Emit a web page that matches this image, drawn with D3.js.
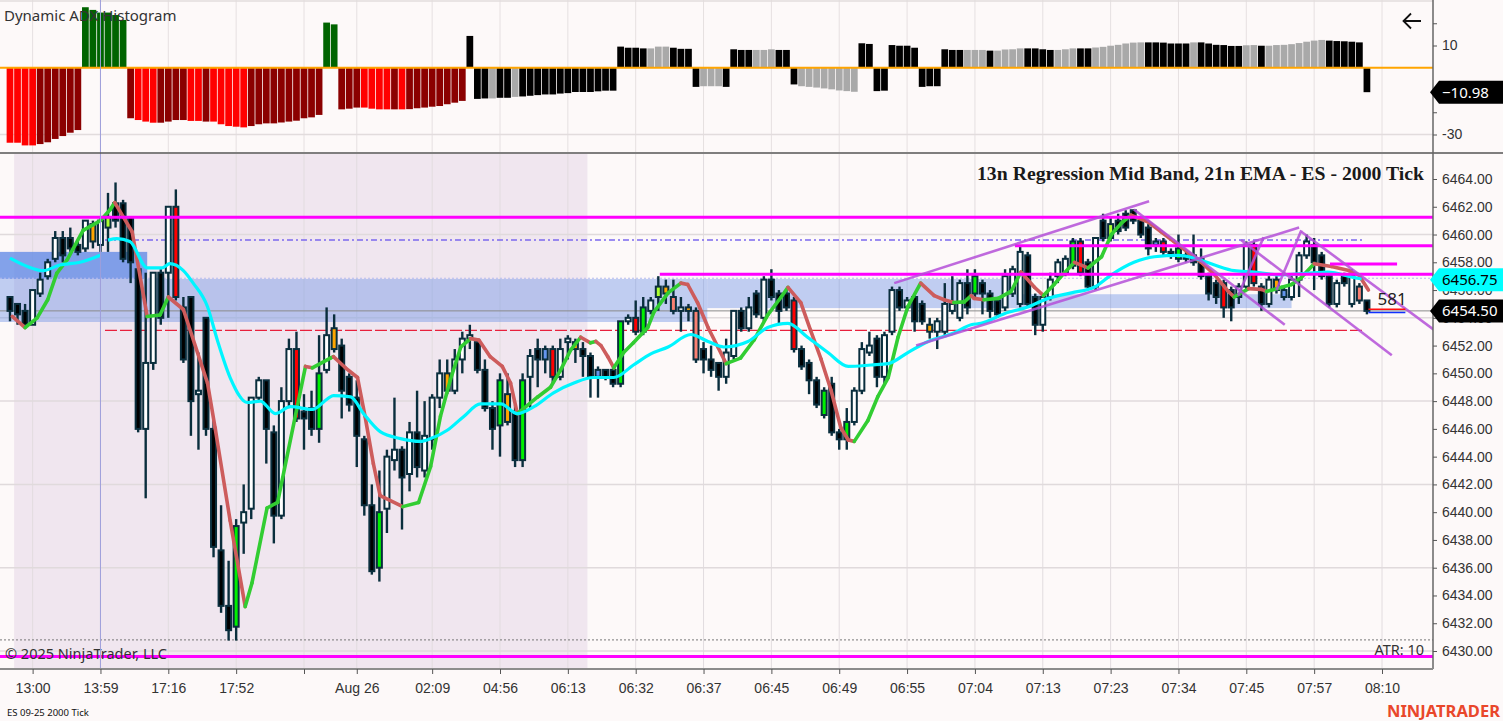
<!DOCTYPE html>
<html>
<head>
<meta charset="utf-8">
<script src="https://d3js.org/d3.v7.min.js"></script>
<style>
  body { margin: 0; background: #fdf9f9; }
  svg { display: block; font-family: "Noto Sans", "Open Sans", sans-serif; }
  .ax text { font-size: 14px; fill: #333; }
  .ax line { stroke: #555; }
</style>
</head>
<body>
<div id="chart"></div>
<script>
// ---------- price bars (ES 09-25, 2000 tick) ----------
var opens = [
6455.5,6455,6454.5,6453.5,6455.75,6457,6458.25,6459.75,6459.75,6459.25,
6459,6459.5,6459.25,6460.5,6462.25,6462.25,6461.25,6457.5,6446,6450.75,
6457.25,6457.25,6462,6454.75,6455.5,6448.5,6454,6446,6437.25,6433.25,
6431.75,6439.25,6440.25,6448.25,6449.5,6445.75,6439.75,6448,6451.75,6447.25,
6447.5,6446,6450.25,6453.25,6452,6449.75,6448.25,6445.25,6440.5,6436,
6440.25,6443.75,6444.5,6442.75,6445.75,6443,6445.25,6448.25,6450,6448.75,
6451,6452.5,6452.25,6450.25,6447.5,6446.25,6448.5,6447.25,6443.75,6449.75,
6451.75,6451.75,6451.75,6449.75,6452.25,6452.25,6451.75,6451.25,6450.25,6450.25,
6450.25,6449.25,6453.75,6454,6453,6454.5,6455.5,6456.25,6455.5,6454.5,
6454.75,6454.5,6451.75,6451,6450.75,6449.75,6451.25,6454.5,6453.25,6455.75,
6454,6456.75,6455.75,6455.75,6455.25,6451.75,6450.75,6449.5,6447,6449.25,
6445.75,6445.25,6446.5,6448.75,6451.5,6452.5,6449.75,6453,6456,6454.75,
6455.5,6455,6453.5,6453,6453,6454.5,6454,6456.5,6455.75,6456.5,
6455.75,6455.25,6454.75,6455.75,6455,6458.5,6455.5,6453.5,6455.5,6457,
6457.25,6457.75,6459.5,6458,6456.25,6461,6459.75,6461,6461.5,6461.75,
6461,6460.5,6459.5,6459.5,6458.75,6458.25,6458.5,6458.5,6458.25,6457,
6456.5,6456.5,6456,6455.5,6456.25,6459.25,6456.25,6455,6456.75,6456,
6455.5,6456.75,6458.5,6459.25,6458.5,6457,6455,6457,6455,6456.25,
6455.25];
var highs = [
6455.5,6455,6455,6456,6457.25,6458.25,6460.25,6460.25,6460.5,6459.5,
6461,6461,6461.25,6463,6463.75,6462.5,6461.25,6457.5,6457.25,6457.25,
6457.5,6462,6463.25,6455.5,6455.5,6451.5,6454,6446.75,6440.5,6436.5,
6439.5,6442,6448.25,6449.75,6449.5,6446.25,6449,6452.5,6453,6448.5,
6448.75,6452.75,6454.75,6454.25,6452.5,6450,6449.5,6445.5,6442,6443,
6444.5,6448.25,6444.75,6446.5,6448.75,6448,6448.5,6451,6451,6451.75,
6453,6453.5,6452.5,6451,6448,6450,6450,6447.75,6450,6451.75,
6452.5,6452,6452,6452.5,6452.75,6452.5,6452.25,6451.5,6450.5,6450.25,
6450.5,6453.75,6454.25,6455.25,6455.5,6455.5,6457,6456.75,6456.75,6455.5,
6455,6454.75,6452.25,6452,6450.75,6452.5,6454.5,6454.75,6455.5,6456,
6457,6457.5,6456,6456,6455.5,6452,6451,6449.75,6449,6449.75,
6446,6447.5,6449,6452.25,6453,6452.75,6453,6456.25,6456.25,6455.5,
6455.75,6455.25,6454,6454,6456.5,6457,6456.75,6457.5,6457.5,6456.75,
6456,6455.5,6457.5,6457.75,6459.25,6458.75,6455.75,6455.75,6457.25,6458.25,
6458.5,6459.75,6459.75,6458.25,6459.75,6461.5,6461.25,6461.5,6461.75,6461.75,
6461.25,6460.75,6459.75,6459.75,6459,6460,6458.75,6460,6459,6457.25,
6456.75,6456.75,6456.25,6456.5,6459.5,6459.5,6456.5,6457,6457,6456.25,
6457,6458.75,6460,6459.75,6458.75,6457.25,6456.75,6457.25,6457.5,6456.5,
6455.25];
var lows = [
6453.75,6453.5,6453.25,6453.5,6455.5,6456.75,6458,6458,6458.75,6458.5,
6458.75,6459,6458.75,6458.75,6460.5,6458,6456.5,6445.75,6441,6450.25,
6453.5,6454,6455.25,6450.75,6445.5,6444.5,6445.5,6436.75,6432.75,6430.75,
6430.75,6437,6439.5,6448,6443.5,6437.75,6439.5,6447.5,6446.5,6444.5,
6445.5,6445,6450,6451.5,6446.75,6447.25,6443.25,6439.75,6435.5,6435,
6438.5,6443,6438.75,6441.5,6442.5,6442.5,6444.5,6447.5,6448.5,6448.5,
6450,6451.75,6450,6447.25,6444.5,6444,6446.25,6443.25,6443.25,6447.5,
6449,6450,6449.25,6449.5,6451,6450.75,6449.75,6448.25,6448.25,6449.5,
6449,6449,6453.5,6452.75,6452.75,6454.25,6454.5,6455,6454.25,6453,
6453.75,6450.75,6450,6449.75,6448.75,6449.25,6451,6453,6453,6454,
6453.75,6455.25,6453.5,6454.5,6451.5,6450.25,6448.5,6447.5,6446.75,6445.5,
6444.5,6444.5,6446.25,6448.5,6451.25,6449,6449.25,6452.75,6454.5,6454.5,
6453,6453.5,6452.5,6451.75,6452.75,6454.25,6453.75,6454.25,6455.5,6454.25,
6454,6454,6454.5,6455.5,6454.75,6454.75,6452.75,6453,6455.25,6456.5,
6457,6457.5,6457,6456,6456,6459.5,6459.5,6460,6460.25,6460.75,
6459.75,6458.5,6458.75,6458.5,6458.25,6458,6458,6457.75,6456.75,6455.25,
6455,6454,6453.75,6455,6456,6456.25,6454.5,6454.75,6455.75,6455.25,
6455.25,6455.5,6458.25,6456,6456.75,6454.75,6454.75,6456.25,6454.75,6455,
6454.25];
var closes = [
6454.5,6454.25,6453.5,6456,6456.75,6458,6459.75,6458.5,6459,6458.75,
6461,6460.75,6461,6461.25,6461,6458.25,6458,6446,6450.75,6457.25,
6454,6462,6455.5,6451,6448,6448.75,6446,6437.5,6433.25,6431.5,
6439,6440,6448.25,6449.5,6446,6439.75,6448,6451.75,6446.75,6446.75,
6446,6450,6452.75,6451.75,6448.75,6447.75,6445.5,6440.5,6435.75,6440,
6444,6444.5,6442.5,6445.75,6443.25,6445.5,6448.25,6450,6448.75,6451,
6452.5,6452.75,6450.25,6447.5,6446,6449.5,6446.5,6443.75,6449.5,6451.25,
6451,6451,6449.75,6451.75,6452.5,6451.75,6451.25,6449.75,6449.75,6449.75,
6449.25,6453.75,6454,6453,6454.75,6455.25,6456.25,6455.75,6454.5,6454.75,
6454.5,6451,6451,6450.25,6449.75,6451.5,6454.5,6453.25,6454.75,6454.25,
6456.75,6455.5,6454.5,6454.75,6451.75,6450.5,6449.5,6447.75,6448.75,6445.75,
6445.25,6446.5,6448.75,6451.75,6452,6449.75,6452.75,6456,6454.75,6455.25,
6453.75,6453.75,6453,6453.75,6455,6455,6456.5,6454.75,6457,6455.75,
6454.5,6454.25,6457,6457.5,6458.75,6455,6453.5,6455.5,6456.75,6458,
6458.25,6459.5,6457.25,6456.25,6459.75,6459.75,6460.75,6460.25,6460.5,6461,
6460,6459,6459.25,6458.75,6458.5,6459,6458.25,6458,6457,6455.75,
6455.5,6454.75,6454.75,6456.25,6459.25,6456.5,6455,6456.75,6456,6455.5,
6456.75,6458.5,6459.5,6458,6457,6455,6456.5,6456.5,6457,6455.25,
6454.5];
// body colour code per bar: k down, w up, g/r/o/y/s/b painted bars
var candleCodes = ("kkkwwwwkkk" + "wowykkkkww" + "kwrkkwkkkk" + "gwwwkkwwrk" + "kgwokkkkkg" +
  "wwkwkwwwow" + "wwkkkgokgw" + "kbrwwokkbk" + "kgwrgwyosw" + "oskkkwwkwk" +
  "wkkkrkkkgk" + "kgwwwkwwkw" + "kkowwwwkgk" + "kkwwwkkwww" + "wgrkwkykkk" +
  "kkbrkgkkkk" + "krkwwrkwob" + "wwwkkkwkwsk").split("");

// ---------- Dynamic ADX histogram ----------
var adxVals = [
-33.7,-33.7,-34.9,-34.9,-34.3,-33.5,-32.0,-30.7,-29.2,-28.0,
27.2,26.0,24.8,24.8,23.7,21.5,-22.7,-23.5,-24.2,-24.7,
-24.7,-24.2,-23.5,-23.5,-23.9,-23.9,-24.2,-24.2,-25.4,-26.2,
-26.5,-26.8,-26.2,-25.4,-25.0,-25.0,-24.6,-24.2,-23.8,-22.7,
-22.3,-21.2,20.3,19.5,-18.7,-18.4,-17.9,-17.9,-18.4,-18.7,
-18.7,-18.7,-18.7,-18.6,-18.2,-17.9,-17.5,-17.2,-16.4,-15.7,
-14.9,14.3,-14.0,-13.8,-13.8,-13.5,-13.5,-13.1,-12.9,-12.6,
-12.3,-12.0,-12.0,-11.6,-11.4,-10.9,-10.9,-10.9,-10.6,-10.3,
-10.3,9.5,9.0,9.0,8.7,8.7,9.5,9.5,9.0,8.5,
8.5,-8.6,-8.3,-8.3,-8.3,-8.6,8.3,8.0,8.0,8.0,
8.0,8.3,8.0,8.0,-7.5,-8.3,-8.6,-8.9,-9.3,-9.7,
-10.2,-10.5,-10.8,11.0,10.7,-10.5,-10.3,10.2,9.9,9.9,
9.0,-8.6,-8.3,-8.3,8.3,8.0,8.0,8.0,8.0,8.0,
7.7,7.7,8.2,8.3,8.7,8.7,8.7,8.3,8.0,8.0,
8.3,8.7,8.7,8.7,9.1,9.4,9.9,10.3,10.9,11.3,
11.4,11.4,11.4,11.3,10.9,10.9,10.9,11.4,11.4,10.9,
10.3,10.2,9.8,9.8,10.1,10.2,9.9,9.9,10.2,10.3,
10.6,11.1,11.7,12.2,12.5,12.2,12.0,11.9,11.7,11.4,
-10.98];
var adxCodes = ("rrrrdddddd" + "ggggggdrrr" + "ddddrrdrrr" + "rrdddddddd" + "ddggdddrrr" +
  "rdrddddddd" + "dkkkakkakk" + "kkkkkkkkkk" + "kkkkkaaakk" + "kkaaakkkka" +
  "aakkkaaaaa" + "aaakkkkkkk" + "kkkkkkkaaa" + "kaaaakkkka" + "aakkaaaaaa" +
  "akkkkkkakk" + "kkkkaakaaa" + "aaaaakkkkkk").split("");

// ---------- indicators: [bar, price] ----------
var regMid = [[0.3,6454.1],[2,6453.3],[3.6,6454.0],[5,6455.3],[6.2,6457.2],[7.6,6458.2],[9.7,6460.3],[12,6461.0],
  [13.3,6461.8],[13.9,6462.3],[16.2,6460.2],[18.2,6454.1],[19.9,6454.2],[21,6455.5],[23,6454.6],[26.2,6449.3],
  [27.2,6446.1],[29.2,6439.4],[31.2,6433.2],[32.1,6434.9],[34.1,6440.3],[35.5,6440.7],[39.2,6450.5],[40.1,6450.4],
  [42.5,6451.1],[42.9,6451.2],[44.5,6450.4],[46.1,6449.7],[47.1,6446.9],[48.2,6443.5],[49.1,6441.2],[52.1,6440.4],
  [54.2,6440.7],[55.8,6443.3],[57.1,6446.9],[58.4,6449.5],[59.8,6451.9],[61.1,6452.5],[62.2,6452.4],[63.7,6451.2],
  [65.3,6450.5],[66.4,6449.3],[67.3,6447.1],[70,6448.3],[71.7,6449.0],[73,6450.2],[74.4,6451.7],[75.7,6452.6],
  [77,6452.2],[77.7,6452.3],[78.4,6452.0],[79.3,6451.2],[80.1,6450.4],[81.4,6451.5],[82.7,6452.2],[84.6,6453.3],
  [85.4,6454.4],[87.3,6455.8],[89,6456.5],[89.9,6456.4],[91.2,6455.1],[92.6,6453.3],[93.9,6451.9],[95,6450.7],
  [96.9,6451.1],[98.7,6452.4],[100.5,6454.2],[102.3,6455.5],[103.2,6456.2],[104.9,6455.1],[106.2,6453.1],
  [107.6,6451.0],[108.9,6448.8],[110.2,6446.1],[111.2,6445.2],[112,6445.1],[113.8,6446.6],[115.1,6448.3],
  [116.5,6449.7],[117.8,6452.6],[119.1,6454.8],[120.8,6456.5],[122.6,6455.6],[123.9,6455.3],[125.2,6455.1],
  [126.6,6455.15],[127.5,6455.6],[127.9,6455.4],[129.2,6455.3],[131.1,6455.4],[132.8,6455.9],[134.1,6457.3],
  [135.9,6456.2],[137.1,6455.6],[138.5,6456.4],[139.8,6457.2],[141.2,6458.0],[143,6457.6],[144.8,6458.4],
  [146.1,6460.0],[147.4,6460.8],[148.7,6461.4],[151,6460.9],[152.7,6460.2],[154.4,6459.5],[156.3,6458.7],
  [158,6458.0],[159.8,6457.1],[161.6,6455.9],[162.4,6455.5],[164.3,6456.1],[166,6456.05],[166.7,6455.9],
  [168.7,6456.2],[170,6456.4],[171.3,6456.9],[173,6457.9],[175.3,6457.7],[177.6,6457.4],[178.9,6457.1],[180.2,6456.0]];
var emaPrev = [[0,6458.3],[2.3,6457.7],[4.4,6457.4],[6.6,6457.8],[9.3,6458.0],[12,6458.5]];
var emaNow = [[13,6459.6],[14.2,6459.7],[15.9,6459.5],[18.2,6457.6],[20.2,6457.6],[21.2,6457.9],[23,6457.4],
  [24.3,6456.5],[26.2,6454.8],[27.5,6452.4],[29.2,6449.7],[31.5,6447.9],[33.2,6448.0],[35.2,6447.1],[37.2,6447.6],
  [40.1,6447.4],[42.2,6448.2],[42.9,6448.4],[45.2,6448.3],[46.9,6447.1],[49.1,6445.8],[51.8,6445.3],[54.4,6445.1],
  [55.8,6445.3],[58,6445.9],[60.2,6446.9],[62.4,6447.8],[65.1,6447.8],[67.3,6447.1],[69.5,6447.6],[72.1,6448.6],
  [74.8,6449.3],[77.4,6449.7],[80.1,6449.7],[82.7,6450.6],[85,6451.4],[87.3,6451.9],[90.3,6452.8],[92.6,6452.3],
  [94.7,6451.9],[97.9,6452.3],[100.5,6453.3],[103.2,6453.6],[105.8,6452.6],[108.5,6451.5],[111.2,6450.5],
  [114.2,6450.6],[116.5,6450.7],[119.1,6451.5],[121.8,6452.3],[125.2,6452.9],[127.5,6453.5],[128.8,6453.6],
  [131.9,6454.3],[135.1,6454.8],[137.7,6455.4],[140.8,6455.8],[143.8,6456.2],[146.1,6457.1],[149.1,6458.0],
  [151.8,6458.4],[155,6458.5],[157.1,6458.3],[159.8,6457.8],[162.4,6457.4],[165.1,6457.3],[168.3,6457.1],
  [171.9,6457.2],[174.8,6457.3],[178.3,6456.9],[179.3,6456.8]];

// ---------- drawings ----------
var magentaLevels = [[6461.25,-3,190],[6459.2,133.3,190],[6457.13,86.2,190],[6457.88,175.1,184.0],[6429.6,-3,190]];
var trendLines = [[117.3,6456.5,151.1,6462.4],[120.2,6452.0,171.0,6460.5],[149.1,6461.8,169.1,6453.5],
  [162.9,6455.6,166.3,6459.8],[163.3,6459.6,183.3,6451.3],[168.0,6456.0,171.3,6460.3],[171.3,6460.2,189.0,6453.1]];
// zones: [top, bottom, fromBar, toBar, strong]
var zones = [[6458.75,6456.8,-3,18.2,1],[6456.8,6453.7,-3,92.5,0],[6456.8,6454.7,92.5,132.7,0],[6455.7,6454.7,132.7,170,0]];
var sessionBars = [0.55, 76.6];
var dashDotLevel = 6459.6, redDashLevel = 6453.1, lineFrom = 12.6, lineTo = 179.5;
var zoneEdge = 6456.85, dayLow = 6430.8, lastPrice = 6454.5, emaLast = 6456.75, adxLast = -10.98;

var timeTickBars = [3,12,21,30,39,46,56,65,74,83,92,101,110,119,128,137,146,155,164,173,182];
var timeTickLabels = ["13:00","13:59","17:16","17:52","","Aug 26","02:09","04:56","06:13","06:32","06:37",
  "06:45","06:49","06:55","07:04","07:13","07:23","07:34","07:45","07:57","08:10"];
var priceTicks = d3.range(6430, 6465, 2);
var priceGrid = [6430, 6436, 6442, 6448, 6454, 6460];

// ---------- setup ----------
var W = 1503, H = 721, R = 1433;
var x = d3.scaleLinear().domain([0, 182]).range([10, 1382]);
var y = d3.scaleLinear().domain([6430, 6464]).range([651, 179]);
var yh = d3.scaleLinear().domain([-30, 10]).range([134.5, 45.5]);
var step = x(1) - x(0);

var svg = d3.select("#chart").append("svg").attr("width", W).attr("height", H);
svg.append("rect").attr("width", W).attr("height", H).attr("fill", "#fdf9f9");

var defs = svg.append("defs");
defs.append("clipPath").attr("id", "cm").append("rect").attr("x", 0).attr("y", 154).attr("width", R).attr("height", 514);
defs.append("clipPath").attr("id", "ct").append("rect").attr("x", 0).attr("y", 0).attr("width", R).attr("height", 152);

// ---------- top panel ----------
var adxPanel = svg.append("g").attr("clip-path", "url(#ct)");
adxPanel.selectAll(".vg").data(timeTickBars).enter().append("line")
  .attr("x1", d => x(d)).attr("x2", d => x(d)).attr("y1", 0).attr("y2", 152)
  .attr("stroke", "#e6e0e1").attr("stroke-width", 1);
adxPanel.selectAll(".hg").data([30, -30]).enter().append("line")
  .attr("x1", 0).attr("x2", R).attr("y1", d => yh(d)).attr("y2", d => yh(d))
  .attr("stroke", "#e2dcdd").attr("stroke-width", 1.5);

var adxFill = { r: "#ff0000", d: "#8b0000", g: "#006400", k: "#000000", a: "#a9a9a9" };
adxPanel.selectAll(".hb").data(adxVals).enter().append("rect")
  .attr("x", (d, i) => x(i) - step / 2 + 0.4)
  .attr("width", step - 0.8)
  .attr("y", d => yh(Math.max(d, 0)))
  .attr("height", d => Math.abs(yh(d) - yh(0)))
  .attr("fill", (d, i) => adxFill[adxCodes[i]]);
adxPanel.append("line").attr("x1", 0).attr("x2", R).attr("y1", yh(0)).attr("y2", yh(0))
  .attr("stroke", "#ffa500").attr("stroke-width", 2);

svg.append("text").attr("x", 4).attr("y", 21).attr("font-size", 15).attr("fill", "#333").text("Dynamic ADX Histogram");
svg.append("path").attr("d", "M1421,21H1404M1411,13.5L1403.5,21L1411,28.5")
  .attr("fill", "none").attr("stroke", "#111").attr("stroke-width", 1.8);

// ---------- main panel ----------
var main = svg.append("g").attr("clip-path", "url(#cm)");
main.append("rect").attr("x", x(sessionBars[0])).attr("y", 154)
  .attr("width", x(sessionBars[1]) - x(sessionBars[0])).attr("height", 514).attr("fill", "#f0e6ef");

main.selectAll(".vg").data(timeTickBars).enter().append("line")
  .attr("x1", d => x(d)).attr("x2", d => x(d)).attr("y1", 154).attr("y2", 668)
  .attr("stroke", "#e2dcdf").attr("stroke-width", 1);
main.selectAll(".hg").data(priceGrid).enter().append("line")
  .attr("x1", 0).attr("x2", R).attr("y1", d => y(d)).attr("y2", d => y(d))
  .attr("stroke", "#e0dadc").attr("stroke-width", 1.5);

main.selectAll(".zone").data(zones).enter().append("rect")
  .attr("x", d => x(d[2])).attr("width", d => x(d[3]) - x(d[2]))
  .attr("y", d => y(d[0])).attr("height", d => y(d[1]) - y(d[0]))
  .attr("fill", "rgb(100,140,230)").attr("fill-opacity", d => d[4] ? 0.8 : 0.4);

main.append("line").attr("x1", 0).attr("x2", R).attr("y1", y(zoneEdge)).attr("y2", y(zoneEdge))
  .attr("stroke", "#b6bdf0").attr("stroke-width", 1.2).attr("stroke-dasharray", "2,2");
main.append("line").attr("x1", 0).attr("x2", R).attr("y1", y(dayLow)).attr("y2", y(dayLow))
  .attr("stroke", "#777").attr("stroke-width", 1).attr("stroke-dasharray", "2,2");
main.append("line").attr("x1", 0).attr("x2", R).attr("y1", y(lastPrice)).attr("y2", y(lastPrice))
  .attr("stroke", "#8a8a8a").attr("stroke-width", 1);
main.append("line").attr("x1", x(lineFrom)).attr("x2", x(lineTo)).attr("y1", y(dashDotLevel)).attr("y2", y(dashDotLevel))
  .attr("stroke", "#7b68ee").attr("stroke-width", 1.5).attr("stroke-dasharray", "6,3,2,3");
main.append("line").attr("x1", x(lineFrom)).attr("x2", x(lineTo)).attr("y1", y(redDashLevel)).attr("y2", y(redDashLevel))
  .attr("stroke", "#e8203c").attr("stroke-width", 1.3).attr("stroke-dasharray", "12,3");

// candles
var bars = opens.map((o, i) => ({ i: i, o: o, h: highs[i], l: lows[i], c: closes[i], k: candleCodes[i] }));
var bodyFill = { k: "#000000", w: "#ffffff", g: "#00f000", r: "#ff0000", o: "#ffa500", y: "#adff2f", s: "#fa8072", b: "#6495ed" };
var edge = "#0a2e3d";
main.selectAll(".wick").data(bars).enter().append("line")
  .attr("x1", d => x(d.i)).attr("x2", d => x(d.i)).attr("y1", d => y(d.h)).attr("y2", d => y(d.l))
  .attr("stroke", edge).attr("stroke-width", 2.4);
main.selectAll(".body").data(bars).enter().append("rect")
  .attr("x", d => x(d.i) - 2.5).attr("width", 5)
  .attr("y", d => y(Math.max(d.o, d.c)))
  .attr("height", d => Math.max(1, Math.abs(y(d.o) - y(d.c))))
  .attr("fill", d => bodyFill[d.k]).attr("stroke", edge).attr("stroke-width", 2);

// regression mid band, coloured by direction
var regSegs = d3.pairs(regMid);
main.selectAll(".reg").data(regSegs).enter().append("line")
  .attr("x1", d => x(d[0][0])).attr("y1", d => y(d[0][1]))
  .attr("x2", d => x(d[1][0])).attr("y2", d => y(d[1][1]))
  .attr("stroke", d => d[1][1] >= d[0][1] ? "#32cd32" : "#cd5c5c")
  .attr("stroke-width", 3.6).attr("stroke-linecap", "round");

// 21 EMA
var emaLine = d3.line().x(d => x(d[0])).y(d => y(d[1])).curve(d3.curveMonotoneX);
[emaPrev, emaNow].forEach(function (s) {
  main.append("path").attr("d", emaLine(s)).attr("fill", "none").attr("stroke", "#00f5ff").attr("stroke-width", 3.2);
});

// levels and trend lines
main.selectAll(".mag").data(magentaLevels).enter().append("line")
  .attr("x1", d => x(d[1])).attr("x2", d => x(d[2])).attr("y1", d => y(d[0])).attr("y2", d => y(d[0]))
  .attr("stroke", "#ff00ff").attr("stroke-width", 3);
main.selectAll(".tl").data(trendLines).enter().append("line")
  .attr("x1", d => x(d[0])).attr("y1", d => y(d[1])).attr("x2", d => x(d[2])).attr("y2", d => y(d[3]))
  .attr("stroke", "#b450d8").attr("stroke-opacity", 0.85).attr("stroke-width", 2.6);

main.append("line").attr("x1", x(180.2)).attr("x2", x(185.1)).attr("y1", y(6454.62)).attr("y2", y(6454.62))
  .attr("stroke", "#ff1010").attr("stroke-width", 1.5);
main.append("line").attr("x1", x(180.2)).attr("x2", x(185.1)).attr("y1", y(6454.38)).attr("y2", y(6454.38))
  .attr("stroke", "#1030ff").attr("stroke-width", 1.5);
main.append("text").attr("x", x(181.4)).attr("y", y(6454.9)).attr("font-size", 17).attr("fill", "#222").text("581");

svg.append("text").attr("x", 1424).attr("y", 180).attr("text-anchor", "end")
  .attr("font-family", "'Liberation Serif', 'DejaVu Serif', serif").attr("font-weight", "bold")
  .attr("font-size", 18).attr("textLength", 447).attr("lengthAdjust", "spacingAndGlyphs").attr("fill", "#1a1a1a")
  .text("13n Regression Mid Band, 21n EMA - ES - 2000 Tick");
svg.append("text").attr("x", 5).attr("y", 659).attr("font-size", 14.5).attr("fill", "#333").text("\u00a9 2025 NinjaTrader, LLC");
svg.append("text").attr("x", 1424).attr("y", 655).attr("text-anchor", "end").attr("font-size", 14.5).attr("fill", "#333").text("ATR: 10");

// crosshair
svg.append("line").attr("x1", x(12)).attr("x2", x(12)).attr("y1", 0).attr("y2", 669)
  .attr("stroke", "#9e9edb").attr("stroke-width", 1);

// ---------- frame & axes ----------
svg.append("line").attr("x1", 0).attr("x2", W).attr("y1", 153).attr("y2", 153).attr("stroke", "#555").attr("stroke-width", 1.6);
svg.append("line").attr("x1", R).attr("x2", R).attr("y1", 0).attr("y2", 669).attr("stroke", "#666").attr("stroke-width", 1.5);
svg.append("line").attr("x1", 0).attr("x2", R).attr("y1", 669).attr("y2", 669).attr("stroke", "#8c8c8c").attr("stroke-width", 2);

svg.append("g").attr("class", "ax").attr("transform", "translate(" + R + ",0)")
  .call(d3.axisRight(y).tickValues(priceTicks).tickFormat(d3.format(".2f")).tickSize(4).tickPadding(5))
  .call(g => g.select(".domain").remove());
svg.append("g").attr("class", "ax").attr("transform", "translate(" + R + ",0)")
  .call(d3.axisRight(yh).tickValues([20, 10, -20, -30]).tickFormat(d => (d === 10 || d === -30) ? d : "").tickSize(4).tickPadding(5))
  .call(g => g.select(".domain").remove());
svg.append("g").attr("class", "ax").attr("transform", "translate(0,669)")
  .call(d3.axisBottom(x).tickValues(timeTickBars).tickFormat((d, i) => timeTickLabels[i]).tickSize(5).tickPadding(9))
  .call(g => g.select(".domain").remove());

// price markers on the right scale (they sit over the axis labels, as in the platform)
function marker(yc, fill, color, label) {
  var h = 23, g = svg.append("g");
  g.append("path").attr("d", "M" + (R - 3) + "," + yc + "L" + (R + 6) + "," + (yc - h / 2) + "L" + W + "," + (yc - h / 2) +
    "L" + W + "," + (yc + h / 2) + "L" + (R + 6) + "," + (yc + h / 2) + "Z").attr("fill", fill);
  g.append("text").attr("x", R + 9).attr("y", yc + 5.5).attr("font-size", 15).attr("fill", color).text(label);
}
marker(y(emaLast), "#00ffff", "#000", d3.format(".2f")(emaLast));
marker(y(lastPrice), "#000", "#fff", d3.format(".2f")(lastPrice));
marker(yh(adxLast), "#000", "#fff", d3.format(".2f")(adxLast));

svg.append("text").attr("x", 7).attr("y", 716).attr("font-size", 9.5).attr("fill", "#111").text("ES 09-25 2000 Tick");
svg.append("text").attr("x", 1500).attr("y", 717).attr("text-anchor", "end").attr("font-size", 16).attr("font-weight", "bold")
  .attr("fill", "#e9472b").attr("textLength", 113).attr("lengthAdjust", "spacingAndGlyphs").text("NINJATRADER");
</script>
</body>
</html>
